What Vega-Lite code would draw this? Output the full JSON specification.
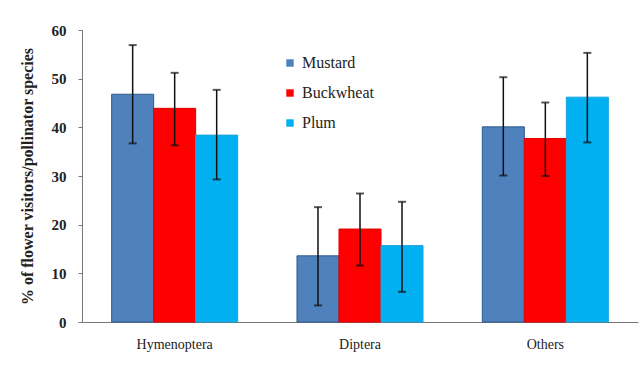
{
  "$schema": "https://vega.github.io/schema/vega-lite/v6.json",
  "autosize": "none",
  "width": 556,
  "height": 292,
  "padding": {"left": 82, "top": 30, "right": 2, "bottom": 45},
  "background": "white",
  "config": {
    "view": {"stroke": null},
    "font": "Liberation Serif",
    "axis": {"labelFont": "Liberation Serif", "titleFont": "Liberation Serif", "labelColor": "#222", "titleColor": "#222", "domainColor": "#777", "tickColor": "#777", "grid": false},
    "legend": {"labelFont": "Liberation Serif", "titleFont": "Liberation Serif"}
  },
  "data": {
    "values": [
      {"group": "Hymenoptera", "crop": "Mustard", "value": 46.8, "lo": 36.7, "hi": 56.9},
      {"group": "Hymenoptera", "crop": "Buckwheat", "value": 43.9, "lo": 36.3, "hi": 51.2},
      {"group": "Hymenoptera", "crop": "Plum", "value": 38.4, "lo": 29.3, "hi": 47.7},
      {"group": "Diptera", "crop": "Mustard", "value": 13.6, "lo": 3.4, "hi": 23.6},
      {"group": "Diptera", "crop": "Buckwheat", "value": 19.1, "lo": 11.6, "hi": 26.4},
      {"group": "Diptera", "crop": "Plum", "value": 15.7, "lo": 6.2, "hi": 24.7},
      {"group": "Others", "crop": "Mustard", "value": 40.1, "lo": 30.1, "hi": 50.3},
      {"group": "Others", "crop": "Buckwheat", "value": 37.7, "lo": 30.0, "hi": 45.1},
      {"group": "Others", "crop": "Plum", "value": 46.2, "lo": 36.9, "hi": 55.3}
    ]
  },
  "encoding": {
    "x": {
      "field": "group", "type": "nominal", "sort": ["Hymenoptera", "Diptera", "Others"],
      "scale": {"paddingInner": 0.32, "paddingOuter": 0.16},
      "axis": {"title": null, "labelAngle": 0, "labelFontSize": 14, "ticks": false, "labelPadding": 15, "domainColor": "#777"}
    },
    "xOffset": {"field": "crop", "type": "nominal", "sort": ["Mustard", "Buckwheat", "Plum"], "scale": {"paddingInner": 0, "paddingOuter": 0}}
  },
  "layer": [
    {
      "mark": {"type": "bar", "strokeWidth": 1},
      "encoding": {
        "y": {
          "field": "value", "type": "quantitative",
          "scale": {"domain": [0, 60]},
          "axis": {"values": [0, 10, 20, 30, 40, 50, 60], "title": "% of flower  visitors/pollinator  species", "titleFontSize": 16, "titleFontWeight": "bold", "titlePadding": 16, "labelFontSize": 15, "labelFontWeight": "bold", "tickSize": 4, "labelPadding": 12}
        },
        "color": {
          "field": "crop", "type": "nominal", "sort": ["Mustard", "Buckwheat", "Plum"],
          "scale": {"domain": ["Mustard", "Buckwheat", "Plum"], "range": ["#4F81BD", "#FF0000", "#00B0F0"]},
          "legend": {"title": null, "orient": "none", "legendX": 200, "legendY": 25, "symbolType": "square", "symbolSize": 55, "labelFontSize": 16, "labelColor": "#222", "rowPadding": 14, "labelOffset": 4, "symbolStrokeWidth": 0}
        },
        "stroke": {
          "field": "crop", "type": "nominal",
          "scale": {"domain": ["Mustard", "Buckwheat", "Plum"], "range": ["#2F5A8E", "#E00000", "#18A4DC"]},
          "legend": null
        }
      }
    },
    {
      "mark": {"type": "rule", "color": "#111", "strokeWidth": 1.5},
      "encoding": {
        "y": {"field": "lo", "type": "quantitative"},
        "y2": {"field": "hi"}
      }
    },
    {
      "mark": {"type": "tick", "color": "#111", "size": 8, "thickness": 2, "orient": "horizontal"},
      "encoding": {"y": {"field": "lo", "type": "quantitative"}}
    },
    {
      "mark": {"type": "tick", "color": "#111", "size": 8, "thickness": 2, "orient": "horizontal"},
      "encoding": {"y": {"field": "hi", "type": "quantitative"}}
    }
  ]
}
